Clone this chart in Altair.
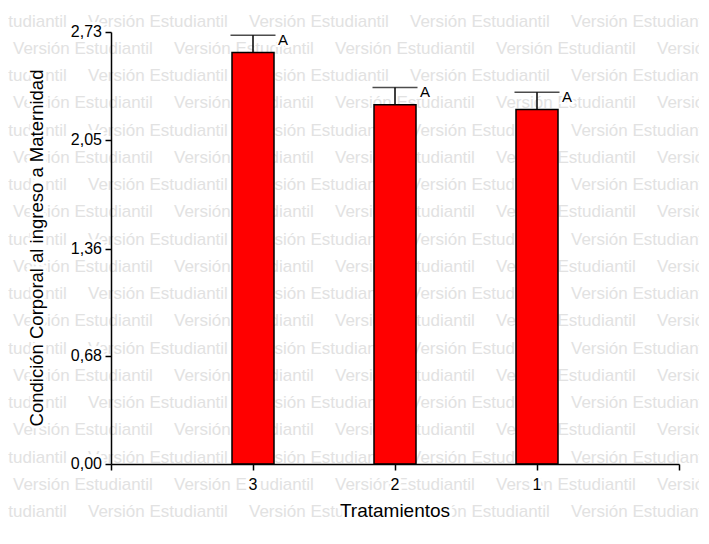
import altair as alt
import pandas as pd

# ---- data ----
tratamientos = ["3", "2", "1"]
medias = [2.60, 2.27, 2.24]
errores = [0.11, 0.11, 0.11]
letras = ["A", "A", "A"]
y_ticks = [0.00, 0.68, 1.36, 2.05, 2.73]
y_tick_labels = ["0,00", "0,68", "1,36", "2,05", "2,73"]
y_max = 2.73
x_title = "Tratamientos"
y_title = "Condición Corporal al ingreso a Maternidad"

# watermark (decorative background text), offsets in pixels from plot origin
wm_text = "Versión Estudiantil"
wm_row_y = [-5.5 + 27.25 * k for k in range(20)]
wm_col_x_even = [-184 + 161 * j for j in range(6)]
wm_col_x_odd = [-98 + 161 * j for j in range(6)]

FONT = "Liberation Sans"
W, H = 568, 432

df = pd.DataFrame({
    "trat": tratamientos,
    "pos": list(range(1, len(tratamientos) + 1)),
    "media": medias,
    "err": errores,
    "letra": letras,
})
df["sup"] = df["media"] + df["err"]

yt = pd.DataFrame({"v": y_ticks, "lab": y_tick_labels})
titles_x = pd.DataFrame({"t": [x_title]})
titles_y = pd.DataFrame({"t": [y_title]})

wm_rows = []
for k, yy in enumerate(wm_row_y):
    cols = wm_col_x_even if k % 2 == 0 else wm_col_x_odd
    for xx in cols:
        wm_rows.append({"wx": xx, "wy": yy, "t": wm_text})
wm = pd.DataFrame(wm_rows)

x_scale = alt.Scale(domain=[0, len(tratamientos) + 1], nice=False, zero=False, padding=0)
y_scale = alt.Scale(domain=[0, y_max], nice=False, padding=0)

x_axis = alt.Axis(
    values=list(range(0, len(tratamientos) + 2)),
    labels=False, title=None, grid=False, tickSize=6,
    domainColor="black", tickColor="black",
    domainWidth=1.5, tickWidth=1.5, zindex=1,
)
y_axis = alt.Axis(
    values=y_ticks,
    labels=False, title=None, grid=False, tickSize=6,
    domainColor="black", tickColor="black",
    domainWidth=1.5, tickWidth=1.5, zindex=1,
)

base = alt.Chart(df)

bars = base.mark_bar(size=42, color="#ff0000", stroke="black", strokeWidth=1.5,
                     orient="vertical").encode(
    x=alt.X("pos:Q", scale=x_scale, axis=x_axis),
    y=alt.Y("media:Q", scale=y_scale, axis=y_axis),
)
rule = base.mark_rule(color="black", strokeWidth=1.5).encode(
    x="pos:Q", y="media:Q", y2="sup:Q"
)
cap = base.mark_tick(orient="horizontal", size=45, thickness=1.5, color="black").encode(
    x="pos:Q", y="sup:Q"
)


def halo_pair(chart_base, mark_kw, enc, halo_w=6):
    h = chart_base.mark_text(color="white", stroke="white", strokeWidth=halo_w,
                             font=FONT, **mark_kw).encode(**enc)
    t = chart_base.mark_text(color="black", font=FONT, **mark_kw).encode(**enc)
    return [h, t]


letters = halo_pair(base, dict(align="left", baseline="alphabetic", dx=25, dy=10, fontSize=15),
                    dict(x="pos:Q", y="sup:Q", text="letra:N"), halo_w=4)
xlabels = halo_pair(base, dict(align="center", baseline="alphabetic", fontSize=16),
                    dict(x="pos:Q", y=alt.value(H + 26), text="trat:N"))
ylabels = halo_pair(alt.Chart(yt), dict(align="right", baseline="middle", fontSize=16),
                    dict(x=alt.value(-9), y="v:Q", text="lab:N"))
xtitle = halo_pair(alt.Chart(titles_x), dict(align="center", baseline="alphabetic", fontSize=19),
                   dict(x=alt.value(W / 2), y=alt.value(H + 53), text="t:N"))
ytitle = halo_pair(alt.Chart(titles_y), dict(align="center", baseline="alphabetic", fontSize=18.5,
                                              angle=270),
                   dict(x=alt.value(-68), y=alt.value(H / 2), text="t:N"))

main = alt.layer(bars, rule, cap, *letters, *xlabels, *ylabels, *xtitle, *ytitle)

watermark = alt.Chart(wm).mark_text(align="left", baseline="alphabetic", fontSize=17,
                                    font=FONT, color="#e2e2e2").encode(
    x=alt.X("wx:Q", scale=None, axis=None),
    y=alt.Y("wy:Q", scale=None, axis=None),
    text="t:N",
)

chart = alt.layer(watermark, main).resolve_scale(
    x="independent", y="independent"
).properties(
    width=W, height=H,
    autosize=alt.AutoSizeParams(type="none"),
    padding={"left": 103, "top": 24, "right": 20, "bottom": 60},
).configure_view(stroke=None)

chart.save("out.html", embed_options={"renderer": "svg", "actions": False})
